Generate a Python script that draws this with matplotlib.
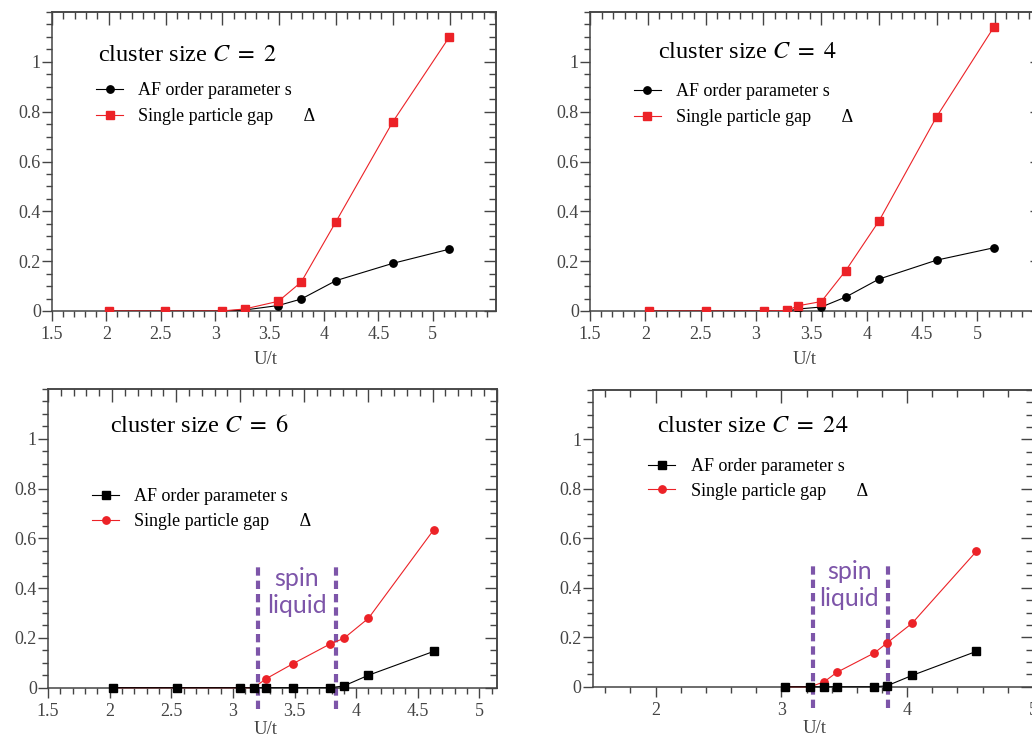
import matplotlib
matplotlib.use('Agg')
import matplotlib.pyplot as plt
from matplotlib.ticker import MultipleLocator, FixedLocator, FuncFormatter, NullFormatter

plt.rcParams['font.family'] = 'serif'
plt.rcParams['font.serif'] = ['Liberation Serif', 'DejaVu Serif']
plt.rcParams['mathtext.fontset'] = 'stix'

RED = "#ec2227"
PURPLE = "#7d55a9"
GREY = "#444444"

# C = 2
u_c2 = [2.02, 2.54, 3.06, 3.27, 3.58, 3.79, 4.11, 4.63, 5.15]
s_c2 = [0, 0, 0, 0.004, 0.022, 0.048, 0.122, 0.191, 0.248]
gap_c2 = [0, 0, 0, 0.008, 0.039, 0.116, 0.359, 0.758, 1.099]

# C = 4
u_c4 = [2.03, 2.55, 3.07, 3.28, 3.38, 3.59, 3.81, 4.11, 4.63, 5.15]
s_c4 = [0, 0, 0, 0, 0.008, 0.016, 0.056, 0.128, 0.204, 0.254]
gap_c4 = [0, 0, 0, 0.002, 0.021, 0.038, 0.162, 0.361, 0.779, 1.141]

# C = 6
u_c6 = [2.03, 2.55, 3.06, 3.17, 3.27, 3.49, 3.79, 3.90, 4.10, 4.63]
s_c6 = [0, 0, 0, 0, 0, 0, 0, 0.007, 0.050, 0.146]
gap_c6 = [0, 0, 0, 0, 0.036, 0.097, 0.176, 0.198, 0.279, 0.635]
sl_c6 = [3.20, 3.84]

# C = 24
u_c24 = [3.03, 3.23, 3.34, 3.44, 3.74, 3.84, 4.04, 4.55]
s_c24 = [0, 0, 0, 0, 0, 0.004, 0.046, 0.143]
gap_c24 = [0, 0, 0.020, 0.058, 0.137, 0.177, 0.257, 0.547]
sl_c24 = [3.25, 3.85]

xticks_half = [1.5, 2, 2.5, 3, 3.5, 4, 4.5, 5]
xticks_int = [2, 3, 4, 5]
yticks = [0, 0.2, 0.4, 0.6, 0.8, 1.0]

LBL_S = "AF order parameter s"
LBL_GAP = "Single particle gap       \u0394"

fmt = FuncFormatter(lambda v, p: "%g" % round(v, 3))


def _frame(ax, xmax, xticks, xmin, stretch):
    ax.set_xlim(1.5, xmax)
    ax.set_ylim(0, 1.2)
    ax.xaxis.set_major_locator(FixedLocator(xticks))
    ax.xaxis.set_minor_locator(MultipleLocator(xmin))
    ax.xaxis.set_major_formatter(fmt)
    ax.yaxis.set_major_locator(FixedLocator(yticks))
    ax.yaxis.set_minor_locator(MultipleLocator(0.05))
    ax.yaxis.set_major_formatter(fmt)
    ax.tick_params(which='both', direction='out', top=False, right=False,
                   color=GREY, labelcolor=GREY, labelsize=13, width=1.0)
    ax.tick_params(which='major', length=7)
    ax.tick_params(which='minor', length=4)
    ax.tick_params(axis='x', pad=4)
    ax.tick_params(axis='y', pad=1)
    for sp in ax.spines.values():
        sp.set_color(GREY)
        sp.set_linewidth(1.1)

    # mirrored ticks (top axis is slightly stretched in the original)
    step = xticks[1] - xticks[0]
    top = ax.secondary_xaxis('top', functions=(lambda x: 1.5 + (x - 1.5) / stretch,
                                                lambda u: 1.5 + (u - 1.5) * stretch))
    top.xaxis.set_major_locator(MultipleLocator(step))
    top.xaxis.set_minor_locator(MultipleLocator(xmin))
    top.xaxis.set_major_formatter(NullFormatter())
    top.tick_params(which='both', direction='in', color=GREY, width=1.0)
    top.tick_params(which='major', length=9)
    top.tick_params(which='minor', length=5)
    top.spines['top'].set_color(GREY)
    top.spines['top'].set_linewidth(1.1)

    right = ax.secondary_yaxis('right')
    right.yaxis.set_major_locator(FixedLocator(yticks))
    right.yaxis.set_minor_locator(MultipleLocator(0.05))
    right.yaxis.set_major_formatter(NullFormatter())
    right.tick_params(which='both', direction='in', color=GREY, width=1.0)
    right.tick_params(which='major', length=9)
    right.tick_params(which='minor', length=5)
    right.spines['right'].set_color(GREY)
    right.spines['right'].set_linewidth(1.1)


def _title(ax, x, y, c):
    ax.text(x, y, r"cluster size $C\ =\ %d$" % c, transform=ax.transAxes,
            fontsize=17.5, ha='left', va='baseline', color='black')


def _legend(ax, x, y, spacing, flip=False):
    h, l = ax.get_legend_handles_labels()
    if flip:
        h, l = h[::-1], l[::-1]
    ax.legend(h, l, loc='upper left', bbox_to_anchor=(x, y), frameon=False, fontsize=13,
              borderpad=0, borderaxespad=0, handlelength=1.5, handletextpad=0.85,
              labelspacing=spacing)


def _xlabel(ax, x, y):
    ax.set_xlabel("U/t", fontsize=13.5, color=GREY)
    ax.xaxis.set_label_coords(x, y)


def _spin_liquid(ax, bounds, xt, yt):
    for b in bounds:
        ax.plot([b, b], [-0.085, 0.50], color=PURPLE, lw=3, ls=(0, (2.0, 1.2)),
                clip_on=False, zorder=1)
    ax.text(xt, yt, "spin\nliquid", color=PURPLE, fontsize=18, ha='center',
            va='center', linespacing=1.2, family=['Lato', 'DejaVu Sans'])


fig = plt.figure(figsize=(10.32, 7.38), dpi=100)

# top left: C = 2
ax1 = fig.add_axes([0.0504, 0.5786, 0.4302, 0.4051])
_frame(ax1, 5.58, xticks_half, 0.1, 1.044)
ax1.plot(u_c2, s_c2, '-o', color='black', ms=5.3, lw=0.8, label=LBL_S, zorder=3)
ax1.plot(u_c2, gap_c2, '-s', color=RED, ms=6, lw=0.8, label=LBL_GAP, zorder=4)
_title(ax1, 0.104, 0.836, 2)
_legend(ax1, 0.099, 0.765, 0.5)
_xlabel(ax1, 0.48, -0.135)

# top right: C = 4
ax2 = fig.add_axes([0.5717, 0.5786, 0.4377, 0.4051])
_frame(ax2, 5.58, xticks_half, 0.1, 1.044)
ax2.plot(u_c4, s_c4, '-o', color='black', ms=5.3, lw=0.8, label=LBL_S, zorder=3)
ax2.plot(u_c4, gap_c4, '-s', color=RED, ms=6, lw=0.8, label=LBL_GAP, zorder=4)
_title(ax2, 0.150, 0.846, 4)
_legend(ax2, 0.097, 0.762, 0.5)
_xlabel(ax2, 0.474, -0.135)

# bottom left: C = 6
ax3 = fig.add_axes([0.0465, 0.0682, 0.4348, 0.4047])
_frame(ax3, 5.14, xticks_half, 0.1, 1.04)
_spin_liquid(ax3, sl_c6, 3.52, 0.385)
ax3.plot(u_c6, gap_c6, '-o', color=RED, ms=5.3, lw=0.8, label=LBL_GAP,
         zorder=3, clip_on=False)
ax3.plot(u_c6, s_c6, '-s', color='black', ms=6, lw=0.8, label=LBL_S,
         zorder=4, clip_on=False)
_title(ax3, 0.138, 0.856, 6)
_legend(ax3, 0.098, 0.668, 0.45, flip=True)
_xlabel(ax3, 0.486, -0.112)

# bottom right: C = 24
ax4 = fig.add_axes([0.5743, 0.0694, 0.4266, 0.4024])
_frame(ax4, 5.0, xticks_int, 0.2, 1.0)
_spin_liquid(ax4, sl_c24, 3.54, 0.41)
ax4.plot(u_c24, gap_c24, '-o', color=RED, ms=5.3, lw=0.8, label=LBL_GAP,
         zorder=3, clip_on=False)
ax4.plot(u_c24, s_c24, '-s', color='black', ms=6, lw=0.8, label=LBL_S,
         zorder=4, clip_on=False)
_title(ax4, 0.146, 0.858, 24)
_legend(ax4, 0.126, 0.769, 0.4, flip=True)
_xlabel(ax4, 0.503, -0.112)

fig.savefig('out.png', dpi=100, facecolor='white')
plt.close(fig)
